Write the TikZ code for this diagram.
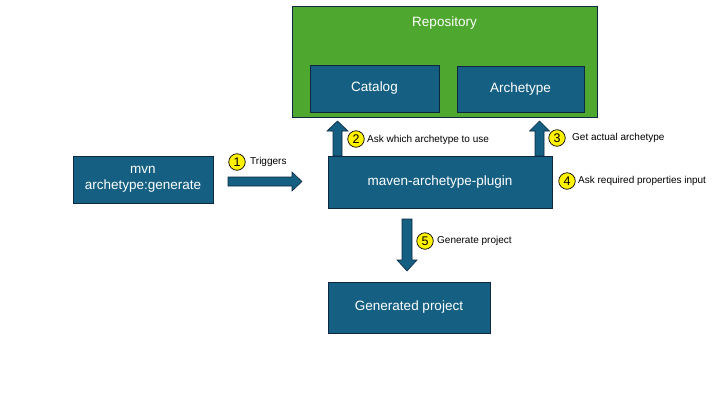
\documentclass[tikz,border=0pt]{standalone}
\usepackage{fontspec}
\setmainfont{Liberation Sans}
\begin{document}
\begin{tikzpicture}[x=1pt,y=-1pt,
  box/.style={draw=boxline,fill=boxblue,line width=0.8pt,text=white,font=\fontsize{13.5}{15.5}\selectfont,align=center,inner sep=0pt},
  blockarrow/.style={draw=boxline,fill=boxblue,line width=0.6pt},
  num/.style={circle,draw=black,fill=yellow,line width=0.7pt,minimum size=16.5pt,inner sep=0pt,font=\fontsize{12.5}{13}\selectfont},
  lbl/.style={anchor=west,inner sep=0pt,font=\fontsize{10}{11}\selectfont}]
\definecolor{boxblue}{HTML}{156082}
\definecolor{boxline}{HTML}{0E2841}
\definecolor{repogreen}{HTML}{4EA72E}
\useasboundingbox (0,0) rectangle (720,405);
\fill[white] (0,0) rectangle (720,405);
% repository
\draw[draw=boxline,fill=repogreen,line width=0.8pt] (292,6) rectangle (597,117);
\node[text=white,font=\fontsize{13.5}{15.5}\selectfont] (repo) at (444.5,23) {Repository};
\node[box,minimum width=129pt,minimum height=47pt] (catalog) at (374.5,88.5) {Catalog};
\node[box,minimum width=127pt,minimum height=46pt] (arch) at (520.5,89) {Archetype};
% main boxes
\node[box,minimum width=140pt,minimum height=47pt] (mvn) at (143,179.5) {mvn\\archetype:generate};
\node[box,minimum width=224pt,minimum height=52pt] (plugin) at (440,182) {maven-archetype-plugin};
\node[box,minimum width=162pt,minimum height=51pt] (gen) at (409,307.5) {Generated project};
% arrow 1
\draw[blockarrow] (228,177) -- (292,177) -- (292,172) -- (302,181.5) -- (292,191) -- (292,186) -- (228,186) -- cycle;
% arrow 2
\draw[blockarrow] (333,156) -- (333,131) -- (327,131) -- (337.5,121) -- (348,131) -- (342,131) -- (342,156) -- cycle;
% arrow 3
\draw[blockarrow] (535,156) -- (535,131) -- (529.5,131) -- (539.5,121) -- (549.5,131) -- (544,131) -- (544,156) -- cycle;
% arrow 5
\draw[blockarrow] (402,219) -- (412,219) -- (412,260) -- (417,260) -- (407,271) -- (397,260) -- (402,260) -- cycle;
% numbers
\node[num] (n1) at (237,162) {1};
\node[num] (n2) at (356,139) {2};
\node[num] (n3) at (557,138) {3};
\node[num] (n4) at (567,181) {4};
\node[num] (n5) at (425,241) {5};
\node[lbl] (l1) at (250,162) {Triggers};
\node[lbl] (l2) at (367,139.5) {Ask which archetype to use};
\node[lbl] (l3) at (572,137.5) {Get actual archetype};
\node[lbl] (l4) at (578,181) {Ask required properties input};
\node[lbl] (l5) at (437,241) {Generate project};
\end{tikzpicture}
\end{document}
